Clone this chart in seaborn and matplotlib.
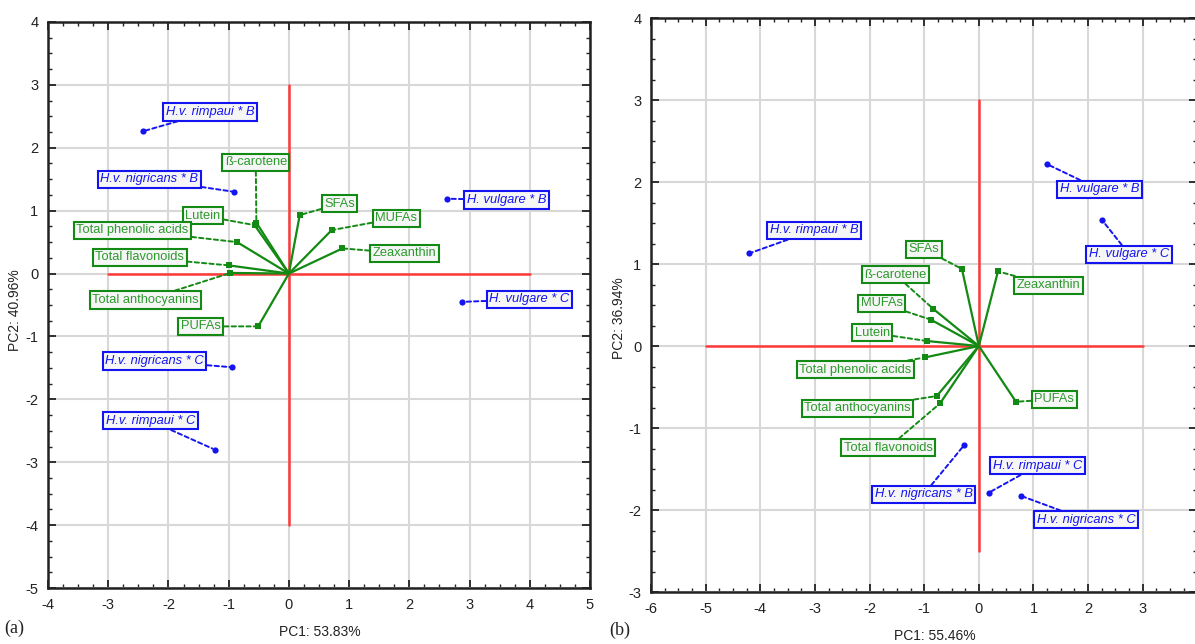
import matplotlib
matplotlib.use("Agg")
import matplotlib.pyplot as plt
import seaborn as sns
import pandas as pd
from matplotlib.ticker import MultipleLocator, FuncFormatter

# ---- panel (a) ----
var_names = ["ß-carotene", "Lutein", "Total phenolic acids", "Total flavonoids",
             "Total anthocyanins", "PUFAs", "SFAs", "MUFAs", "Zeaxanthin"]
a_load_x = [-0.54, -0.57, -0.86, -1.00, -0.97, -0.51, 0.18, 0.71, 0.89]
a_load_y = [0.81, 0.77, 0.50, 0.13, 0.01, -0.84, 0.93, 0.69, 0.40]
a_vlab_x = [-0.55, -1.43, -2.60, -2.48, -2.38, -1.46, 0.84, 1.78, 1.92]
a_vlab_y = [1.77, 0.92, 0.69, 0.26, -0.42, -0.84, 1.11, 0.88, 0.32]

a_obs_names = ["H.v. rimpaui * B", "H.v. nigricans * B", "H. vulgare * B",
               "H. vulgare * C", "H.v. nigricans * C", "H.v. rimpaui * C"]
a_obs_x = [-2.43, -0.91, 2.62, 2.88, -0.94, -1.23]
a_obs_y = [2.26, 1.30, 1.19, -0.45, -1.49, -2.80]
a_olab_x = [-1.31, -2.32, 3.61, 3.99, -2.23, -2.30]
a_olab_y = [2.57, 1.50, 1.17, -0.41, -1.39, -2.34]

# ---- panel (b) ----
b_var_names = ["SFAs", "Zeaxanthin", "ß-carotene", "MUFAs", "Lutein",
               "Total phenolic acids", "Total anthocyanins", "Total flavonoids", "PUFAs"]
b_load_x = [-0.31, 0.35, -0.83, -0.875, -0.94, -0.99, -0.77, -0.71, 0.68]
b_load_y = [0.94, 0.91, 0.45, 0.32, 0.06, -0.14, -0.61, -0.70, -0.68]
b_vlab_x = [-1.00, 1.28, -1.53, -1.78, -1.95, -2.26, -2.22, -1.66, 1.38]
b_vlab_y = [1.18, 0.74, 0.87, 0.52, 0.16, -0.29, -0.76, -1.24, -0.65]

b_obs_names = ["H.v. rimpaui * B", "H. vulgare * B", "H. vulgare * C",
               "H.v. nigricans * B", "H.v. rimpaui * C", "H.v. nigricans * C"]
b_obs_x = [-4.20, 1.24, 2.25, -0.27, 0.18, 0.78]
b_obs_y = [1.13, 2.22, 1.54, -1.21, -1.79, -1.83]
b_olab_x = [-3.02, 2.21, 2.75, -1.01, 1.07, 1.96]
b_olab_y = [1.41, 1.91, 1.12, -1.81, -1.46, -2.12]

a_xlabel, a_ylabel = "PC1: 53.83%", "PC2: 40.96%"
b_xlabel, b_ylabel = "PC1: 55.46%", "PC2: 36.94%"

sns.set_theme(style="ticks")
sans = ["Liberation Sans", "DejaVu Sans"]
plt.rcParams["font.family"] = sans
plt.rcParams["axes.unicode_minus"] = False

GREEN = "#138a13"
GREEN_TXT = "#2d9a2d"
BLUE = "#1414f0"
RED = "#ff3a3a"
GRID = "#d8d8d8"
INK = "#222222"

fig = plt.figure(figsize=(11.95, 6.44), dpi=100)
ax_a = fig.add_axes([48 / 1195, 56 / 644, 542 / 1195, 566 / 644])
ax_b = fig.add_axes([651 / 1195, 52 / 644, 546.4 / 1195, 574 / 644])


def style_axes(ax, xlim, ylim, hide_last_x=False):
    ax.set_xlim(*xlim)
    ax.set_ylim(*ylim)
    ax.xaxis.set_major_locator(MultipleLocator(1))
    ax.yaxis.set_major_locator(MultipleLocator(1))
    ax.xaxis.set_minor_locator(MultipleLocator(0.25))
    ax.yaxis.set_minor_locator(MultipleLocator(0.25))
    xmax = xlim[1]
    ax.xaxis.set_major_formatter(FuncFormatter(
        lambda v, p: "" if (hide_last_x and abs(v - xmax) < 1e-6) else f"{v:.0f}"))
    ax.yaxis.set_major_formatter(FuncFormatter(lambda v, p: f"{v:.0f}"))
    ax.grid(True, which="major", color=GRID, lw=1.5, zorder=0)
    ax.set_axisbelow(True)
    ax.tick_params(which="both", direction="in", top=True, right=True,
                   color=INK, labelsize=10.5, labelcolor=INK)
    ax.tick_params(which="major", length=5.5, width=1.3, pad=7)
    ax.tick_params(which="minor", length=3, width=1.0)
    for sp in ax.spines.values():
        sp.set_visible(True)
        sp.set_color(INK)
        sp.set_linewidth(1.8)
    ax.set_xlabel("")
    ax.set_ylabel("")


def draw_biplot(ax, load_x, load_y, vnames, vlab_x, vlab_y,
                obs_x, obs_y, onames, olab_x, olab_y, hline, vline):
    ax.plot(hline, [0, 0], color=RED, lw=1.8, zorder=1)
    ax.plot([0, 0], vline, color=RED, lw=1.8, zorder=1)

    for lx, ly in zip(load_x, load_y):
        ax.plot([0, lx], [0, ly], color=GREEN, lw=1.6, zorder=2)
    loads = pd.DataFrame({"x": load_x, "y": load_y})
    sns.scatterplot(data=loads, x="x", y="y", ax=ax, marker="s", s=18,
                    color=GREEN, edgecolor=GREEN, linewidth=0, zorder=3)

    obs = pd.DataFrame({"x": obs_x, "y": obs_y})
    sns.scatterplot(data=obs, x="x", y="y", ax=ax, marker="o", s=20,
                    color=BLUE, edgecolor=BLUE, linewidth=0, zorder=3)

    for name, px, py, tx, ty in zip(vnames, load_x, load_y, vlab_x, vlab_y):
        ax.annotate(name, xy=(px, py), xytext=(tx, ty), ha="center", va="center",
                    fontsize=9.3, color=GREEN_TXT, zorder=4,
                    bbox=dict(boxstyle="square,pad=0.2", fc="#f6f6f6",
                              ec=GREEN, lw=1.5),
                    arrowprops=dict(arrowstyle="-", color=GREEN, lw=1.4,
                                    ls=(0, (2.2, 1.6)), shrinkA=0, shrinkB=2))

    for name, px, py, tx, ty in zip(onames, obs_x, obs_y, olab_x, olab_y):
        ax.annotate(name, xy=(px, py), xytext=(tx, ty), ha="center", va="center",
                    fontsize=9.3, color=BLUE, style="italic", zorder=4,
                    bbox=dict(boxstyle="square,pad=0.2", fc="#f6f6f6",
                              ec=BLUE, lw=1.5),
                    arrowprops=dict(arrowstyle="-", color=BLUE, lw=1.4,
                                    ls=(0, (2.2, 1.6)), shrinkA=0, shrinkB=2))


draw_biplot(ax_a, a_load_x, a_load_y, var_names, a_vlab_x, a_vlab_y,
            a_obs_x, a_obs_y, a_obs_names, a_olab_x, a_olab_y,
            hline=(-3, 4), vline=(-4, 3))
style_axes(ax_a, (-4, 5), (-5, 4))

draw_biplot(ax_b, b_load_x, b_load_y, b_var_names, b_vlab_x, b_vlab_y,
            b_obs_x, b_obs_y, b_obs_names, b_olab_x, b_olab_y,
            hline=(-5, 3), vline=(-2.5, 3))
style_axes(ax_b, (-6, 4), (-3, 4), hide_last_x=True)

fig.text(320 / 1195, 1 - 632 / 644, a_xlabel, ha="center", va="center",
         fontsize=10, color=INK)
fig.text(935 / 1195, 1 - 636 / 644, b_xlabel, ha="center", va="center",
         fontsize=10, color=INK)
fig.text(15 / 1195, 1 - 310 / 644, a_ylabel, ha="center", va="center",
         rotation=90, fontsize=10, color=INK)
fig.text(619 / 1195, 1 - 318 / 644, b_ylabel, ha="center", va="center",
         rotation=90, fontsize=10, color=INK)

serif = ["Liberation Serif", "DejaVu Serif"]
fig.text(14 / 1195, 1 - 628 / 644, "(a)", ha="center", va="center",
         fontsize=13, family=serif, color=INK)
fig.text(620 / 1195, 1 - 630 / 644, "(b)", ha="center", va="center",
         fontsize=13, family=serif, color=INK)

fig.savefig("out.png", dpi=100, facecolor="white")
